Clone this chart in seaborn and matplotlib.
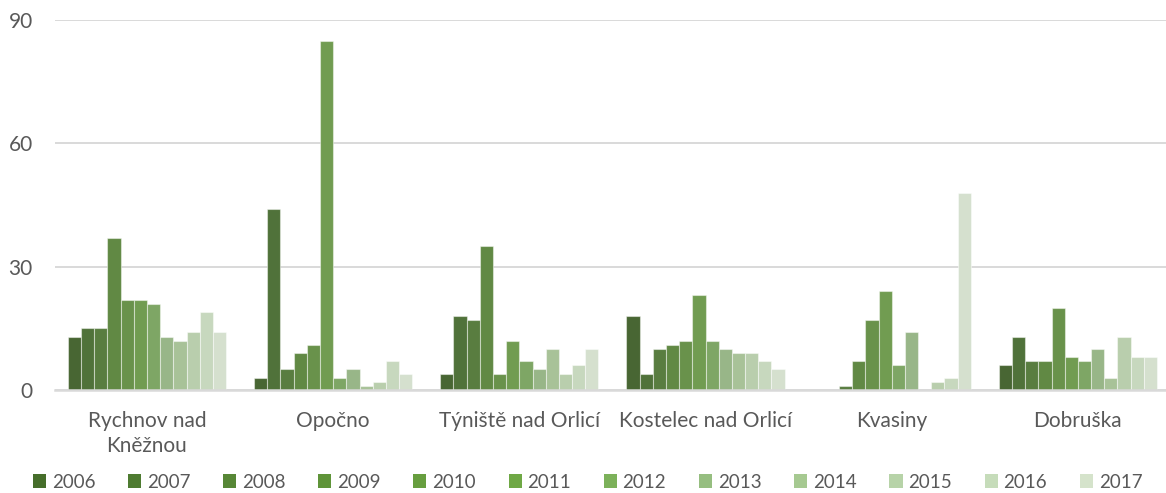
import matplotlib
matplotlib.use("Agg")
import matplotlib.pyplot as plt
import seaborn as sns
import pandas as pd
from matplotlib.patches import Patch

# Towns on the x axis
towns = ["Rychnov nad\nKněžnou", "Opočno", "Týniště nad Orlicí",
         "Kostelec nad Orlicí", "Kvasiny", "Dobruška"]
years = ["2006", "2007", "2008", "2009", "2010", "2011",
         "2012", "2013", "2014", "2015", "2016", "2017"]

# Values per town, one entry per year 2006–2017
rychnov = [13, 15, 15, 37, 22, 22, 21, 13, 12, 14, 19, 14]
opocno = [3, 44, 5, 9, 11, 85, 3, 5, 1, 2, 7, 4]
tyniste = [4, 18, 17, 35, 4, 12, 7, 5, 10, 4, 6, 10]
kostelec = [18, 4, 10, 11, 12, 23, 12, 10, 9, 9, 7, 5]
kvasiny = [0, 0, 1, 7, 17, 24, 6, 14, 0, 2, 3, 48]
dobruska = [6, 13, 7, 7, 20, 8, 7, 10, 3, 13, 8, 8]

yticks = [0, 30, 60, 90]

colors = ["#466E2B", "#4E7B31", "#578736", "#5F9439", "#679E3F", "#6FA845",
          "#7CB15A", "#96BE80", "#A6C991", "#B7D3A8", "#C6DCBA", "#D5E3CB"]

series = [rychnov, opocno, tyniste, kostelec, kvasiny, dobruska]
rows = []
for town, vals in zip(towns, series):
    for yr, v in zip(years, vals):
        rows.append({"town": town, "year": yr, "value": v})
df = pd.DataFrame(rows)

sns.set_theme(style="white")
plt.rcParams["font.family"] = ["Lato", "DejaVu Sans"]
text_color = "#595959"
grid_color = "#D9D9D9"

fig = plt.figure(figsize=(11.66, 4.93), dpi=100)
ax = fig.add_axes([55 / 1166, 103 / 493, 1111 / 1166, 370 / 493])

sns.barplot(data=df, x="town", y="value", hue="year", order=towns,
            hue_order=years, palette=colors, width=0.85, dodge=True,
            edgecolor=(1, 1, 1, 0.45), linewidth=0.8, legend=False, ax=ax,
            zorder=3)

ax.set_ylim(0, 90)
ax.set_yticks(yticks)
ax.set_xlim(-0.494, 5.473)
ax.set_xlabel("")
ax.set_ylabel("")
ax.yaxis.grid(True, color=grid_color, linewidth=1.4, zorder=0)
ax.set_axisbelow(True)
for side in ["top", "right", "left"]:
    ax.spines[side].set_visible(False)
ax.spines["bottom"].set_color(grid_color)
ax.spines["bottom"].set_linewidth(1.8)
ax.spines["bottom"].set_zorder(4)
ax.tick_params(axis="both", length=0, labelsize=15, colors=text_color)
ax.tick_params(axis="x", pad=15)
ax.tick_params(axis="y", pad=16)
for lab in ax.get_xticklabels():
    lab.set_linespacing(1.3)

handles = [Patch(facecolor=c, edgecolor="none") for c in colors]
fig.legend(handles, years, loc="center", bbox_to_anchor=(0.504, 11 / 493),
           ncol=12, frameon=False, fontsize=13.5, labelcolor=text_color,
           handlelength=0.7, handleheight=0.7, handletextpad=0.3,
           columnspacing=1.75)

fig.savefig("out.png", dpi=100)
